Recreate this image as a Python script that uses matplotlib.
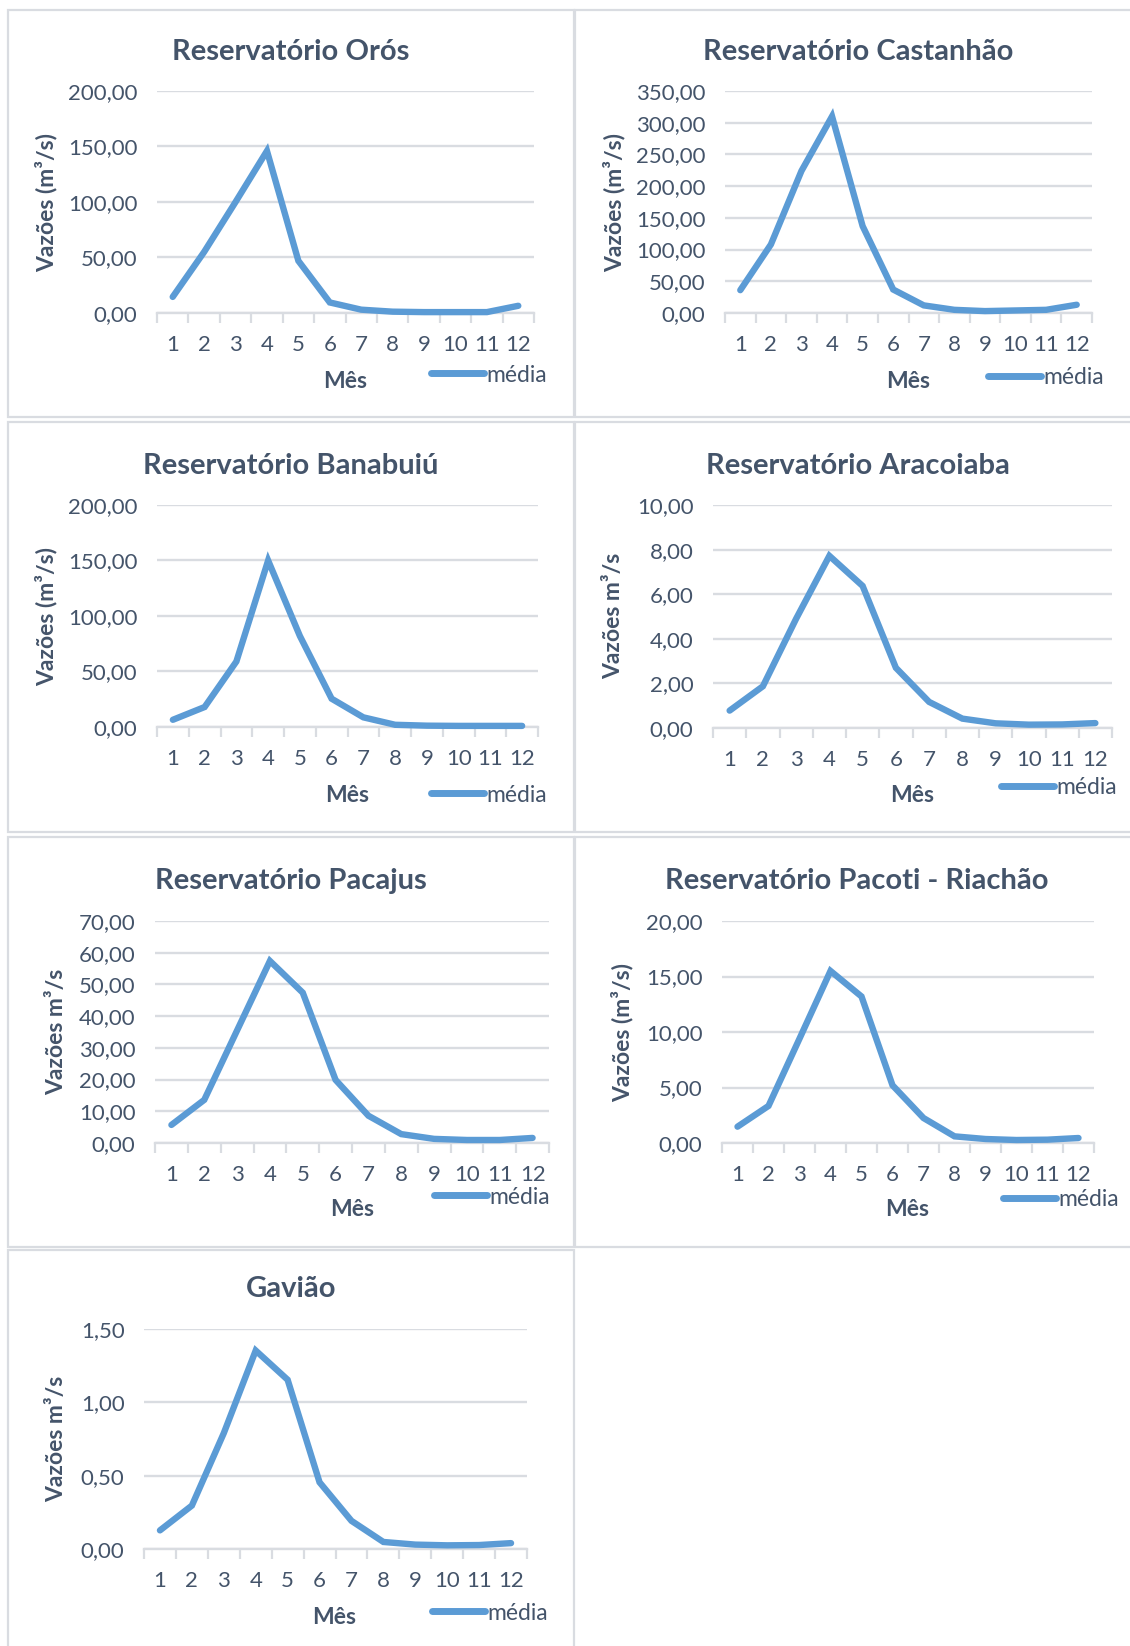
import matplotlib
matplotlib.use("Agg")
import matplotlib.pyplot as plt
from matplotlib.ticker import FuncFormatter, FixedLocator
from matplotlib.patches import Rectangle

plt.rcParams['font.family'] = ['Lato', 'DejaVu Sans']

# Monthly mean inflows (m³/s) per reservoir
months = [1, 2, 3, 4, 5, 6, 7, 8, 9, 10, 11, 12]
month_labels = [str(m) for m in months]

oros = [14.5, 55.0, 100.0, 146.0, 47.0, 9.5, 3.0, 1.2, 0.8, 0.8, 0.8, 6.5]
castanhao = [36.0, 108.0, 224.0, 310.0, 137.0, 37.0, 12.0, 5.0, 3.0, 4.0, 5.0, 13.0]
banabuiu = [6.5, 18.0, 59.0, 150.0, 82.0, 25.5, 8.7, 2.0, 1.2, 1.0, 1.0, 1.0]
aracoiaba = [0.78, 1.87, 4.9, 7.72, 6.37, 2.7, 1.17, 0.42, 0.21, 0.15, 0.16, 0.22]
pacajus = [5.7, 13.6, 35.5, 57.4, 47.4, 19.9, 8.6, 2.8, 1.3, 0.95, 0.95, 1.6]
pacoti = [1.47, 3.34, 9.4, 15.5, 13.2, 5.2, 2.25, 0.6, 0.36, 0.27, 0.3, 0.45]
gaviao = [0.127, 0.296, 0.79, 1.353, 1.154, 0.455, 0.192, 0.048, 0.03, 0.025, 0.027, 0.04]

titles = ["Reservatório Orós", "Reservatório Castanhão", "Reservatório Banabuiú",
          "Reservatório Aracoiaba", "Reservatório Pacajus",
          "Reservatório Pacoti - Riachão", "Gavião"]
ylabels = ["Vazões (m³/s)", "Vazões (m³/s)", "Vazões (m³/s)", "Vazões m³/s",
           "Vazões m³/s", "Vazões (m³/s)", "Vazões m³/s"]
ymax = [200, 350, 200, 10, 70, 20, 1.5]
ystep = [50, 50, 50, 2, 10, 5, 0.5]
series = [oros, castanhao, banabuiu, aracoiaba, pacajus, pacoti, gaviao]
x_label = "Mês"
legend_label = "média"

W, H = 1130, 1646
LINE = "#5B9BD5"
TXT = "#44546A"
GRID = "#D9DCE1"
BORDER = "#D9DCE1"

# Layout in pixels: plot area (left, right, top, bottom), title centre, "Mês" centre,
# legend anchor (left, centre y), y-label centre
layout = [
    dict(plot=(157, 534, 91, 313), title=(291, 52), xlab=(345, 381), leg=(431, 375), ylab=(46, 203)),
    dict(plot=(725, 1092, 91, 313), title=(858, 52), xlab=(908, 381), leg=(988, 378), ylab=(614, 203)),
    dict(plot=(157, 538, 505, 727), title=(291, 466), xlab=(347, 795), leg=(431, 795), ylab=(46, 616)),
    dict(plot=(713, 1112, 505, 728), title=(858, 466), xlab=(912, 795), leg=(1001, 788), ylab=(614, 616)),
    dict(plot=(155, 549, 921, 1143), title=(291, 881), xlab=(352, 1210), leg=(434, 1197), ylab=(57, 1032)),
    dict(plot=(722, 1094, 921, 1143), title=(857, 881), xlab=(907, 1210), leg=(1003, 1200), ylab=(622, 1032)),
    dict(plot=(144, 527, 1329, 1549), title=(291, 1289), xlab=(334, 1617), leg=(432, 1613), ylab=(57, 1439)),
]

fig = plt.figure(figsize=(W / 100, H / 100), dpi=100)
fig.patch.set_facecolor("white")

# Chart frames
frames = [(8, 10, 574, 417), (575, 10, 1135, 417),
          (8, 422, 574, 832), (575, 422, 1135, 832),
          (8, 837, 574, 1247), (575, 837, 1135, 1247),
          (8, 1250, 574, 1660)]
for (x0, y0, x1, y1) in frames:
    fig.patches.append(Rectangle((x0 / W, 1 - y1 / H), (x1 - x0) / W, (y1 - y0) / H,
                                 transform=fig.transFigure, fill=False,
                                 edgecolor=BORDER, linewidth=1.6, zorder=0))

fmt = FuncFormatter(lambda v, pos: f"{v:.2f}".replace(".", ","))

for i, vals in enumerate(series):
    L = layout[i]
    l, r, t, b = L["plot"]
    ax = fig.add_axes([l / W, 1 - b / H, (r - l) / W, (b - t) / H])
    ax.plot(months, vals, color=LINE, linewidth=4.6, solid_joinstyle="miter",
            solid_capstyle="round", label=legend_label, clip_on=False, zorder=3)
    ax.set_xlim(0.5, 12.5)
    ax.set_ylim(0, ymax[i])
    n = int(round(ymax[i] / ystep[i]))
    ax.yaxis.set_major_locator(FixedLocator([k * ystep[i] for k in range(n + 1)]))
    ax.yaxis.set_major_formatter(fmt)
    ax.set_xticks(months)
    ax.set_xticklabels(month_labels)
    ax.xaxis.set_minor_locator(FixedLocator([m + 0.5 for m in range(0, 13)]))
    ax.grid(axis="y", color=GRID, linewidth=1.7, zorder=0)
    ax.set_axisbelow(True)
    for s in ["top", "right", "left"]:
        ax.spines[s].set_visible(False)
    ax.spines["bottom"].set_color(GRID)
    ax.spines["bottom"].set_linewidth(1.7)
    ax.tick_params(axis="x", which="major", length=0, pad=16, labelsize=16, labelcolor=TXT)
    ax.tick_params(axis="x", which="minor", length=7, width=1.6, color=GRID)
    ax.tick_params(axis="y", length=0, pad=14, labelsize=16, labelcolor=TXT)

    tx, ty = L["title"]
    fig.text(tx / W, 1 - ty / H, titles[i], ha="center", va="center",
             fontsize=21, fontweight="bold", color=TXT)
    mx, my = L["xlab"]
    fig.text(mx / W, 1 - my / H, x_label, ha="center", va="center",
             fontsize=16.5, fontweight="bold", color=TXT)
    yx, yy = L["ylab"]
    fig.text(yx / W, 1 - yy / H, ylabels[i], ha="center", va="center", rotation=90,
             fontsize=16.5, fontweight="bold", color=TXT)
    lx, ly = L["leg"]
    leg = ax.legend(loc="center left", bbox_to_anchor=(lx / W, 1 - ly / H),
                    bbox_transform=fig.transFigure, frameon=False, fontsize=16.5,
                    handlelength=2.3, handletextpad=0.12, borderpad=0, borderaxespad=0)
    for txt in leg.get_texts():
        txt.set_color(TXT)
    for h in leg.get_lines():
        h.set_linewidth(5.0)
        h.set_solid_capstyle("round")

fig.savefig("out.png", dpi=100, facecolor="white")
